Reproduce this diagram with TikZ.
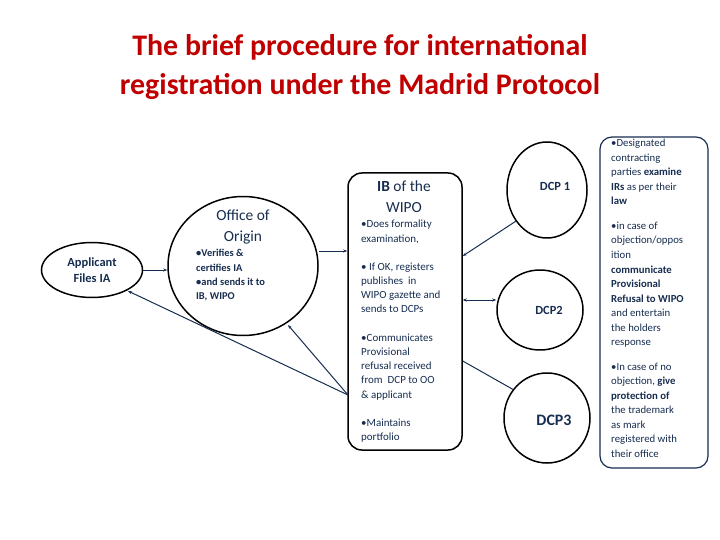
\documentclass[tikz,border=0pt]{standalone}
\usepackage{fontspec}
\setmainfont{Carlito}
\usetikzlibrary{shapes.geometric,arrows.meta}
\definecolor{navy}{RGB}{23,45,80}
\definecolor{ttl}{RGB}{192,0,0}
\begin{document}
\begin{tikzpicture}[x=1bp,y=-1bp,
  shp/.style={draw=black,line width=1.5pt},
  ell/.style={shp,ellipse,inner sep=0pt},
  con/.style={draw=navy,line width=1pt},
  arr/.style={con,-{Stealth[length=4pt,width=3pt]}},
  txt/.style={text=navy,font=\fontsize{11}{14.3}\selectfont,align=left,anchor=north west,inner sep=0pt}]
\useasboundingbox (0,0) rectangle (720,540);
\node[text=ttl,font=\bfseries\fontsize{30}{39}\selectfont,align=center] (title) at (360,67) {The brief procedure for international\\registration under the Madrid Protocol};
\node[ell,minimum width=101bp,minimum height=55bp] (app) at (92,270) {};
\node[text=navy,font=\bfseries\fontsize{12.5}{16}\selectfont,align=center] (appt) at (92,270) {Applicant\\Files IA};
\node[ell,minimum width=150bp,minimum height=139bp] (oo) at (243,266) {};
\node[text=navy,font=\fontsize{15.5}{21}\selectfont,align=center] (oot) at (243,227) {Office of\\Origin};
\node[txt,font=\bfseries\fontsize{10.5}{14.5}\selectfont] (oob) at (196,249) {\textbullet Verifies \&\\certifies IA\\\textbullet and sends it to\\IB, WIPO};
\node[shp,rounded corners=14pt,minimum width=114bp,minimum height=277bp] (ib) at (405,311.5) {};
\node[text=navy,font=\fontsize{15.5}{21}\selectfont,align=center] (ibt) at (404,197) {\textbf{IB} of the\\WIPO};
\node[txt] (ibb) at (361,220) {\textbullet Does formality\\examination,\\[14pt]\textbullet{} If OK, registers\\publishes\ \ in\\WIPO gazette and\\sends to DCPs\\[14pt]\textbullet Communicates\\Provisional\\refusal received\\from\ \ DCP to OO\\\& applicant\\[14pt]\textbullet Maintains\\portfolio};
\node[ell,minimum width=80bp,minimum height=96bp] (d1) at (547,190) {};
\node[text=navy,font=\bfseries\fontsize{12.5}{15}\selectfont] (d1t) at (555,186) {DCP 1};
\node[ell,minimum width=86bp,minimum height=80bp] (d2) at (540,310) {};
\node[text=navy,font=\bfseries\fontsize{12.5}{15}\selectfont] (d2t) at (549,310) {DCP2};
\node[ell,minimum width=86bp,minimum height=90bp] (d3) at (547,418) {};
\node[text=navy,font=\bfseries\fontsize{16}{18}\selectfont] (d3t) at (554,420) {DCP3};
\node[draw=navy,line width=1.2pt,rounded corners=12pt,minimum width=108bp,minimum height=331bp] (rb) at (654,302.5) {};
\node[txt,font=\fontsize{10.8}{14.6}\selectfont] (rbt) at (611,139) {\textbullet Designated\\contracting\\parties \textbf{examine}\\\textbf{IRs} as per their\\\textbf{law}\\[10pt]\textbullet in case of\\objection/oppos\\ition\\\textbf{communicate}\\\textbf{Provisional}\\\textbf{Refusal to WIPO}\\and entertain\\the holders\\response\\[10pt]\textbullet In case of no\\objection, \textbf{give}\\\textbf{protection of}\\the trademark\\as mark\\registered with\\their office};
\draw[arr] (app.east) -- (oo.west |- app.east);
\draw[arr] (oo.east |- 0,251) -- (ib.west |- 0,251);
\draw[arr] (d1.225) -- (ib.east |- 0,256);
\draw[con,{Stealth[length=4pt,width=3pt]}-{Stealth[length=4pt,width=3pt]}] (ib.east |- 0,300) -- (d2.west |- 0,300);
\draw[con] (ib.east |- 0,361) -- (d3.140);
\coordinate (ibl) at (348,395);
\draw[arr] (ibl) -- (288,325);
\draw[arr] (ibl) -- (128,291);
\end{tikzpicture}
\end{document}
